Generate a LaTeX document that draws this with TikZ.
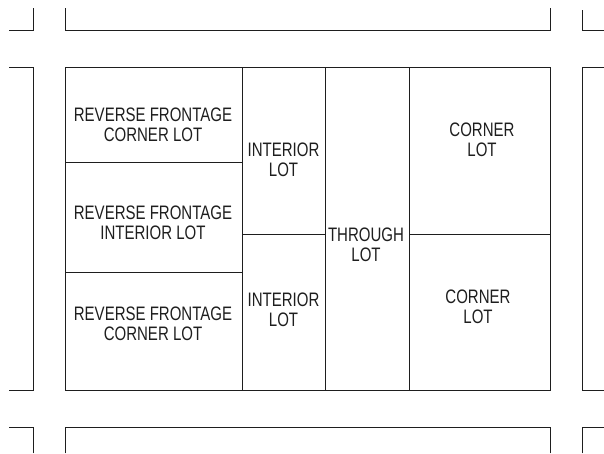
\documentclass[tikz,border=0pt]{standalone}
\usepackage{fontspec}
\usepackage{tikz}
\usetikzlibrary{positioning}
\newfontfamily\lotfont[FakeStretch=0.77]{Liberation Sans}
\definecolor{lotline}{RGB}{30,30,30}

\begin{document}
\begin{tikzpicture}[x=1pt, y=-1pt,
    lotlabel/.style={align=center, inner sep=0pt, text=lotline,
                 font=\lotfont\fontsize{19.5}{20.5}\selectfont},
    edge/.style={draw=lotline, line width=0.8pt, line cap=rect}
]
\useasboundingbox (0,0) rectangle (604,453);

% neighbouring blocks
\draw[edge] (9,30) -- (33,30) -- (33,8);
\draw[edge] (65,8) -- (65,30) -- (550,30) -- (550,8);
\draw[edge] (582,10) -- (582,30) -- (604,30);
\draw[edge] (9,67) -- (33,67) -- (33,390) -- (9,390);
\draw[edge] (604,67) -- (582,67) -- (582,390) -- (604,390);
\draw[edge] (9,427) -- (33,427) -- (33,453);
\draw[edge] (65,453) -- (65,427) -- (550,427) -- (550,453);
\draw[edge] (582,453) -- (582,427) -- (604,427);

% the block and its lots
\draw[edge] (65,67) rectangle (550,390);
\draw[edge] (242,67) -- (242,390);
\draw[edge] (325,67) -- (325,390);
\draw[edge] (409,67) -- (409,390);
\draw[edge] (65,162) -- (242,162);
\draw[edge] (65,272) -- (242,272);
\draw[edge] (242,234) -- (325,234);
\draw[edge] (409,234) -- (550,234);

\node[lotlabel] (rcl1) at (153,125) {REVERSE FRONTAGE\\CORNER LOT};
\node[lotlabel] (ril)  at (153,223) {REVERSE FRONTAGE\\INTERIOR LOT};
\node[lotlabel] (rcl2) at (153,324) {REVERSE FRONTAGE\\CORNER LOT};
\node[lotlabel] (il1)  at (283.5,160) {INTERIOR\\LOT};
\node[lotlabel] (il2)  at (283.5,310) {INTERIOR\\LOT};
\node[lotlabel] (tl)   at (366,245) {THROUGH\\LOT};
\node[lotlabel] (cl1)  at (482,140) {CORNER\\LOT};
\node[lotlabel] (cl2)  at (478,307) {CORNER\\LOT};
\end{tikzpicture}
\end{document}
